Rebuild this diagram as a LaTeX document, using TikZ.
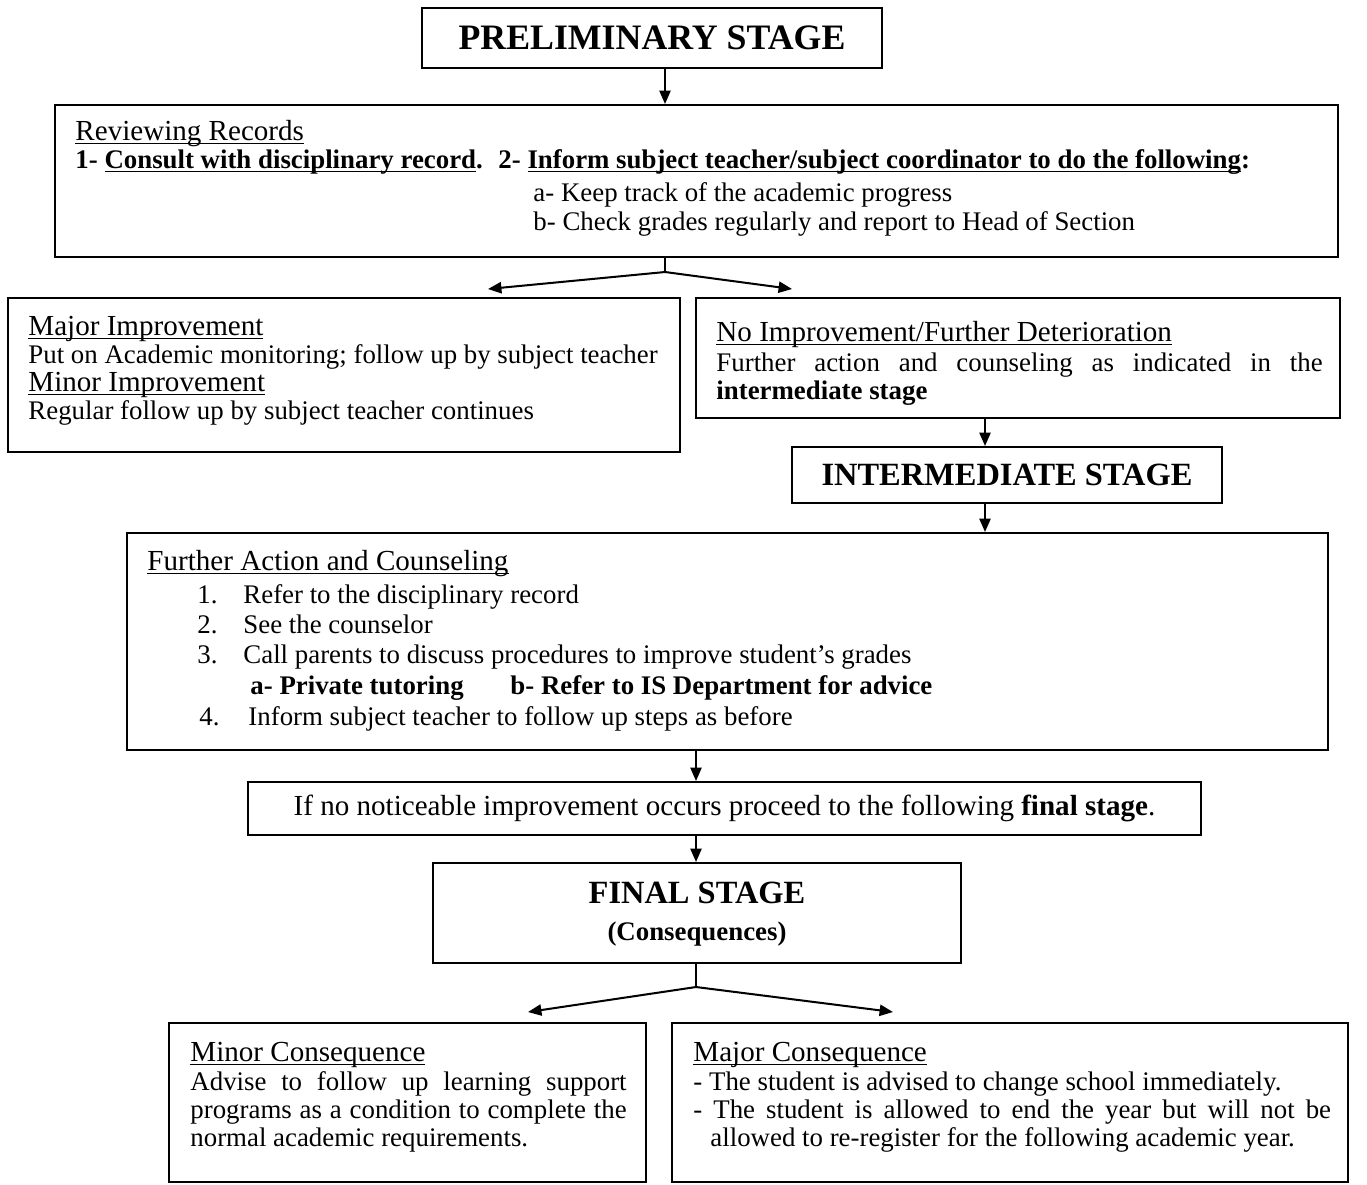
\documentclass[tikz,border=0pt]{standalone}
\usepackage{fontspec}
\setmainfont{Liberation Serif}
\usetikzlibrary{arrows.meta,fit}

\newcommand{\uln}[1]{\setbox0=\hbox{#1}\rlap{\rule[-1.9pt]{\wd0}{0.6pt}}\box0}

\tikzset{
  box/.style={draw=black, line width=0.9pt, inner sep=0pt},
  txt/.style={anchor=base west, inner sep=0pt, font=\fontsize{12}{14}\selectfont},
  head/.style={txt, font=\fontsize{13}{15}\selectfont},
  stagetxt/.style={font=\fontsize{14.5}{17}\selectfont\bfseries},
  arr/.style={line width=0.9pt, -{Triangle[length=6pt,width=5pt]}},
}

\begin{document}
\begin{tikzpicture}[x=0.447pt, y=-0.447pt]
    \useasboundingbox (0,0) rectangle (1367,1184);

    % insert boxes
    \node[box, fit={(422,8) (882,68)}, label={[font=\fontsize{16}{18}\selectfont\bfseries]center:PRELIMINARY STAGE}] (prelim) {};
    \node[box, fit={(55,105) (1338,257)}] (review) {};
    \node[box, fit={(8,298) (680,452)}] (improve) {};
    \node[box, fit={(696,298) (1340,418)}] (noimp) {};
    \node[box, fit={(792,447) (1222,503)}, label={[stagetxt]center:INTERMEDIATE STAGE}] (inter) {};
    \node[box, fit={(127,533) (1328,750)}] (further) {};
    \node[box, fit={(248,782) (1201,835)}, label={[font=\fontsize{13}{15}\selectfont]center:If no noticeable improvement occurs proceed to the following \textbf{final stage}.}] (ifbox) {};
    \node[box, fit={(433,863) (961,963)}] (final) {};
    \node[box, fit={(169,1023) (646,1182)}] (minor) {};
    \node[box, fit={(672,1023) (1348,1182)}] (major) {};

    % insert texts
    \node[head] (rv0) at (75,140) {\uln{Reviewing Records}};
    \node[txt] (rv1) at (75,168) {\bfseries 1- \uln{Consult with disciplinary record}.};
    \node[txt] (rv2) at (498,168) {\bfseries 2- \uln{Inform subject teacher/subject coordinator to do the following}:};
    \node[txt] (rv3) at (533,201) {a- Keep track of the academic progress};
    \node[txt] (rv4) at (533,230) {b- Check grades regularly and report to Head of Section};

    \node[head] (im0) at (28,335) {\uln{Major Improvement}};
    \node[txt] (im1) at (28,363) {Put on Academic monitoring; follow up by subject teacher};
    \node[head] (im2) at (28,391) {\uln{Minor Improvement}};
    \node[txt] (im3) at (28,419) {Regular follow up by subject teacher continues};

    \node[head] (ni0) at (716,341) {\uln{No Improvement/Further Deterioration}};
    \node[txt] (ni1) at (716,371) {\makebox[271pt][s]{Further action and counseling as indicated in the}};
    \node[txt] (ni2) at (716,399) {\bfseries intermediate stage};

    \node[head] (fa0) at (147,570) {\uln{Further Action and Counseling}};
    \node[txt] (fa1) at (197,603) {1.};
    \node[txt] (fa1t) at (243,603) {Refer to the disciplinary record};
    \node[txt] (fa2) at (197,633) {2.};
    \node[txt] (fa2t) at (243,633) {See the counselor};
    \node[txt] (fa3) at (197,663) {3.};
    \node[txt] (fa3t) at (243,663) {Call parents to discuss procedures to improve student’s grades};
    \node[txt] (fa3a) at (250,694) {\bfseries a- Private tutoring};
    \node[txt] (fa3b) at (510,694) {\bfseries b- Refer to IS Department for advice};
    \node[txt] (fa4) at (199,725) {4.};
    \node[txt] (fa4t) at (248,725) {Inform subject teacher to follow up steps as before};

    \node[stagetxt, anchor=base, inner sep=0pt] (fs0) at (697,903) {FINAL STAGE};
    \node[txt, anchor=base, font=\fontsize{12}{14}\selectfont\bfseries] (fs1) at (697,940) {(Consequences)};

    \node[head] (mi0) at (190,1061) {\uln{Minor Consequence}};
    \node[txt] (mi1) at (190,1090) {\makebox[195pt][s]{Advise to follow up learning support}};
    \node[txt] (mi2) at (190,1118) {\makebox[195pt][s]{programs as a condition to complete the}};
    \node[txt] (mi3) at (190,1146) {normal academic requirements.};

    \node[head] (ma0) at (693,1061) {\uln{Major Consequence}};
    \node[txt] (ma1) at (693,1090) {- The student is advised to change school immediately.};
    \node[txt] (ma2) at (693,1118) {\makebox[285pt][s]{- The student is allowed to end the year but will not be}};
    \node[txt] (ma3) at (710,1146) {allowed to re-register for the following academic year.};

    % insert links
    \coordinate (fork1) at (665,272);
    \coordinate (tip1l) at (488,289);
    \coordinate (tip1r) at (792,289);
    \coordinate (rcol) at (985,0);
    \coordinate (fork2) at (696,987);
    \coordinate (tip2l) at (528,1012);
    \coordinate (tip2r) at (893,1012);

    \draw[arr] (prelim.south -| fork1) -- (review.north -| fork1);
    \draw[line width=0.9pt] (review.south -| fork1) -- (fork1);
    \draw[arr] (fork1) -- (tip1l);
    \draw[arr] (fork1) -- (tip1r);
    \draw[arr] (noimp.south -| rcol) -- (inter.north -| rcol);
    \draw[arr] (inter.south -| rcol) -- (further.north -| rcol);
    \draw[arr] (further.south -| fork2) -- (ifbox.north -| fork2);
    \draw[arr] (ifbox.south -| fork2) -- (final.north -| fork2);
    \draw[line width=0.9pt] (final.south -| fork2) -- (fork2);
    \draw[arr] (fork2) -- (tip2l);
    \draw[arr] (fork2) -- (tip2r);
\end{tikzpicture}
\end{document}
